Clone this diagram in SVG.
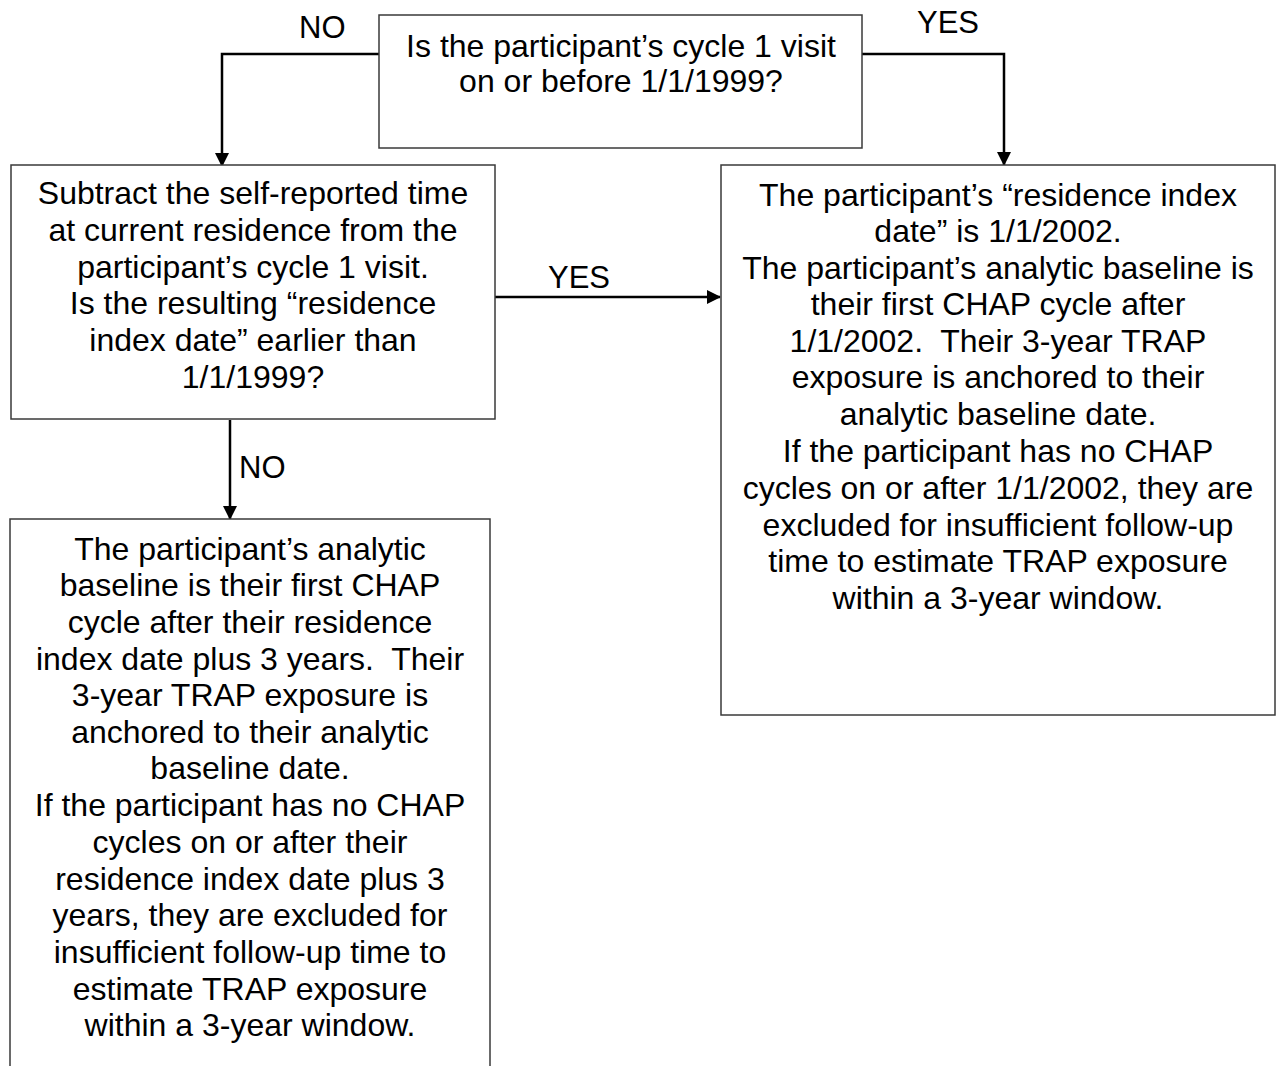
<svg xmlns="http://www.w3.org/2000/svg" width="1276" height="1066" viewBox="0 0 1276 1066">
<defs>
<marker id="arr" markerWidth="14" markerHeight="14" refX="13" refY="7" orient="auto" markerUnits="userSpaceOnUse" viewBox="0 0 14 14">
<path d="M0,0 L14,7 L0,14 Z" fill="#000"/>
</marker>
<style>
.box{fill:#fff;stroke:#3a3a3a;stroke-width:1.5}
.t{font-family:"Liberation Sans",Arial,sans-serif;font-size:32px;fill:#000;text-anchor:middle;white-space:pre}
.lbl{font-family:"Liberation Sans",Arial,sans-serif;font-size:31px;fill:#000}
.c{fill:none;stroke:#000;stroke-width:2.5}
</style>
</defs>
<rect width="1276" height="1066" fill="#fff"/>
<g id="connectors">
<path class="c" d="M379,54 H222 V166" marker-end="url(#arr)"/>
<path class="c" d="M862,54 H1004 V165" marker-end="url(#arr)"/>
<path class="c" d="M495,297 H720" marker-end="url(#arr)"/>
<path class="c" d="M230,420 V519" marker-end="url(#arr)"/>
<text class="lbl" x="299" y="38">NO</text>
<text class="lbl" x="917" y="33">YES</text>
<text class="lbl" x="548" y="288">YES</text>
<text class="lbl" x="239" y="478">NO</text>
</g>
<g id="q1">
<rect class="box" x="379" y="15" width="483" height="133"/>
<text class="t"><tspan x="621" y="57">Is the participant’s cycle 1 visit</tspan><tspan x="621" y="92">on or before 1/1/1999?</tspan></text>
</g>
<g id="q2">
<rect class="box" x="11" y="165" width="484" height="254"/>
<text class="t"><tspan x="253" y="204">Subtract the self-reported time</tspan><tspan x="253" y="241">at current residence from the</tspan><tspan x="253" y="278">participant’s cycle 1 visit.</tspan><tspan x="253" y="314">Is the resulting “residence</tspan><tspan x="253" y="351">index date” earlier than</tspan><tspan x="253" y="388">1/1/1999?</tspan></text>
</g>
<g id="yes-outcome">
<rect class="box" x="721" y="165" width="554" height="550"/>
<text class="t"><tspan x="998" y="206">The participant’s “residence index</tspan><tspan x="998" y="242">date” is 1/1/2002.</tspan><tspan x="998" y="279">The participant’s analytic baseline is</tspan><tspan x="998" y="315">their first CHAP cycle after</tspan><tspan x="998" y="352">1/1/2002.  Their 3-year TRAP</tspan><tspan x="998" y="388">exposure is anchored to their</tspan><tspan x="998" y="425">analytic baseline date.</tspan><tspan x="998" y="462">If the participant has no CHAP</tspan><tspan x="998" y="499">cycles on or after 1/1/2002, they are</tspan><tspan x="998" y="536">excluded for insufficient follow-up</tspan><tspan x="998" y="572">time to estimate TRAP exposure</tspan><tspan x="998" y="609">within a 3-year window.</tspan></text>
</g>
<g id="no-outcome">
<rect class="box" x="10" y="519" width="480" height="560"/>
<text class="t"><tspan x="250" y="560">The participant’s analytic</tspan><tspan x="250" y="596">baseline is their first CHAP</tspan><tspan x="250" y="633">cycle after their residence</tspan><tspan x="250" y="670">index date plus 3 years.  Their</tspan><tspan x="250" y="706">3-year TRAP exposure is</tspan><tspan x="250" y="743">anchored to their analytic</tspan><tspan x="250" y="779">baseline date.</tspan><tspan x="250" y="816">If the participant has no CHAP</tspan><tspan x="250" y="853">cycles on or after their</tspan><tspan x="250" y="890">residence index date plus 3</tspan><tspan x="250" y="926">years, they are excluded for</tspan><tspan x="250" y="963">insufficient follow-up time to</tspan><tspan x="250" y="1000">estimate TRAP exposure</tspan><tspan x="250" y="1036">within a 3-year window.</tspan></text>
</g>
</svg>
